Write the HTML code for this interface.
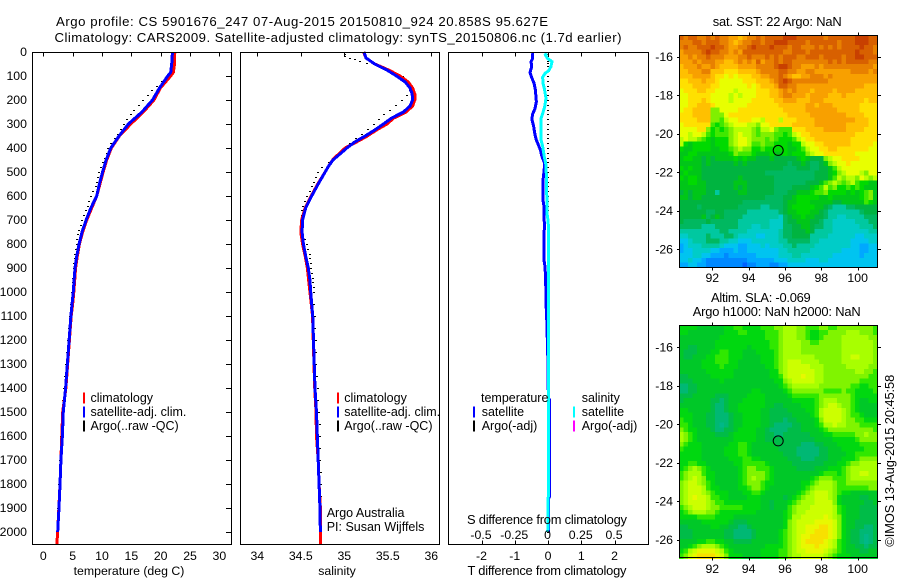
<!DOCTYPE html>
<html lang="en">
<head>
<meta charset="utf-8">
<title>Argo profile CS 5901676_247</title>
<style>
html,body{margin:0;padding:0;background:#fff;}
svg{display:block;}
text{font-family:"Liberation Sans",sans-serif;font-size:12.3px;fill:#000;}
text.big{font-size:13.2px;}
text.mid{font-size:12.9px;}
text.leg{font-size:12.5px;}
.line{fill:none;stroke-linejoin:miter;shape-rendering:crispEdges;}
.box{fill:none;stroke:#000;stroke-width:1;shape-rendering:crispEdges;}
</style>
</head>
<body>
<svg id="fig" xmlns="http://www.w3.org/2000/svg" width="900" height="580" viewBox="0 0 900 580">
  <rect x="0" y="0" width="900" height="580" fill="#fff"/>
  <g id="map-layer"></g>
  <g id="profile-layer"></g>
  <g id="axis-layer"></g>

  <text class="big" x="56" y="26" textLength="492" lengthAdjust="spacing">Argo profile: CS 5901676_247 07-Aug-2015 20150810_924 20.858S 95.627E</text>
  <text class="big" x="54.5" y="42" textLength="567" lengthAdjust="spacing">Climatology: CARS2009. Satellite-adjusted climatology: synTS_20150806.nc (1.7d earlier)</text>

  <text x="129" y="575" text-anchor="middle">temperature (deg C)</text>
  <text x="337" y="575" text-anchor="middle">salinity</text>
  <text class="mid" x="547" y="575" text-anchor="middle" textLength="159" lengthAdjust="spacing">T difference from climatology</text>
  <text class="mid" x="547" y="524" text-anchor="middle" textLength="160" lengthAdjust="spacing">S difference from climatology</text>

  <text class="leg" x="326.7" y="517">Argo Australia</text>
  <text class="leg" x="326.7" y="531">PI: Susan Wijffels</text>

  <text class="mid" x="712.7" y="26" textLength="129" lengthAdjust="spacing">sat. SST: 22 Argo: NaN</text>
  <text class="mid" x="711" y="302" textLength="99.7" lengthAdjust="spacing">Altim. SLA: -0.069</text>
  <text class="mid" x="692.7" y="316" textLength="168" lengthAdjust="spacing">Argo h1000: NaN h2000: NaN</text>
  <text class="mid" transform="translate(894,546.7) rotate(-90)" textLength="172" lengthAdjust="spacing">©IMOS 13-Aug-2015 20:45:58</text>
</svg>

<script>
// ---------- profile data ----------
const climTempDepth = [0,50,85,100,150,200,250,300,350,400,450,500,550,600,650,700,750,800,850,900,1000,1050,1100,1200,1300,1400,1500,1600,1700,1800,1900,2000,2054];
const climTemp = [22.4,22.35,22.15,21.7,19.95,18.85,17.05,14.9,12.95,11.6,10.8,10.2,9.65,9.1,8.25,7.4,6.7,6.15,5.8,5.5,5.2,5.0,4.75,4.45,4.15,3.85,3.3,3.15,3.0,2.85,2.65,2.45,2.3];
const satTempDepth = [0,50,85,100,150,200,250,300,350,400,450,500,550,600,650,700,750,800,850,900,1000,1050,1100,1200,1300,1400,1500,1600,1700,1800,1900,2000];
const satTemp = [22.0,21.87,21.7,21.2,19.8,18.6,16.8,14.5,12.9,11.5,10.7,10.1,9.55,9.1,8.1,7.3,6.6,6.1,5.7,5.4,5.1,4.9,4.7,4.4,4.1,3.8,3.4,3.25,3.0,2.85,2.67,2.45];

const satSalDepth = [0,25,50,75,100,125,150,175,200,225,250,275,300,325,350,375,400,425,450,475,500,550,600,650,700,750,800,850,900,950,1000,1050,1100,1400,1500,1600,1700,1800,1900,2000];
const satSal = [35.226,35.25,35.35,35.49,35.60,35.70,35.755,35.78,35.785,35.755,35.68,35.545,35.45,35.35,35.24,35.12,35.03,34.95,34.87,34.82,34.78,34.70,34.625,34.556,34.52,34.515,34.53,34.556,34.586,34.605,34.614,34.625,34.637,34.663,34.68,34.69,34.70,34.71,34.72,34.725];
const climSalDepth = [0,25,50,75,100,125,150,175,200,225,250,275,300,325,350,375,400,425,450,475,500,550,600,650,700,750,800,850,900,950,1000,1050,1100,1400,1500,1600,1700,1800,1900,2000,2054];
const climSal = [35.22,35.25,35.35,35.51,35.64,35.735,35.785,35.81,35.81,35.785,35.71,35.57,35.49,35.37,35.265,35.14,35.01,34.935,34.865,34.82,34.78,34.695,34.62,34.55,34.51,34.50,34.52,34.55,34.575,34.59,34.605,34.62,34.635,34.66,34.675,34.68,34.70,34.71,34.725,34.725,34.725];

const argoDepth = [8,18,24,30,36,44,60,80,100,120,140,160,180,200,220,240,260,280,300,320,340,360,380,400,420,440,460,480,500,520,540,560,580,600,620,640,660,680,700,720,740,760,780,800,820,840,860,880,900,920,940,960,980,1000,1050,1100,1150,1200,1250,1300,1350,1400,1450,1500,1550,1600,1650,1700,1750,1800,1850,1900,1950,2000];
const argoTemp = [22.1,22.1,22.1,22.1,22.1,22.05,22.0,21.8,21.2,20.2,19.3,18.5,17.8,17.0,16.3,15.5,14.9,14.3,13.75,13.2,12.7,12.2,11.6,11.1,10.8,10.5,10.2,9.85,9.55,9.35,9.2,8.95,8.55,8.07,7.8,7.6,7.3,7.0,6.65,6.35,6.15,5.95,5.8,5.7,5.55,5.45,5.35,5.28,5.23,5.15,5.1,5.05,5.0,4.95,4.75,4.55,4.4,4.25,4.05,3.9,3.75,3.6,3.4,3.28,3.18,3.1,3.0,2.9,2.82,2.75,2.65,2.58,2.5,2.4];
const argoSal = [35.01,35.01,35.06,35.12,35.18,35.26,35.40,35.55,35.67,35.72,35.75,35.755,35.72,35.66,35.59,35.52,35.46,35.40,35.34,35.27,35.20,35.14,35.07,35.0,34.945,34.89,34.82,34.74,34.70,34.68,34.65,34.625,34.60,34.575,34.55,34.525,34.51,34.51,34.51,34.515,34.517,34.53,34.55,34.57,34.585,34.6,34.607,34.615,34.62,34.63,34.64,34.645,34.65,34.65,34.655,34.66,34.665,34.67,34.675,34.68,34.69,34.695,34.70,34.705,34.715,34.72,34.722,34.725,34.728,34.73,34.735,34.735,34.735,34.73];
const argoDiff = [0,0,0,0,0,0,0,0,0,0,0,0,0,0,0,0,0,0,0,0,0,0,0,0,0,0,0,0,0,0,0,0,0,0,0,0,0,0,0,0,0,0,0,0,0,0,0,0,0,0,0,0,0,0,0,0,0,0,0,0,0,0,0,0,0,0,0,0,0,0,0,0,0,0];

const tDiffDepth = [5,26,40,61,85,103,130,158,207,235,262,283,311,346,367,387,408,436,464,499,533,617,644,728,783,867,894,950,1047,1103,1300,1440,1450,1850,1860,2000];
const tDiff = [-0.47,-0.46,-0.51,-0.49,-0.54,-0.50,-0.42,-0.38,-0.35,-0.39,-0.47,-0.48,-0.43,-0.39,-0.35,-0.29,-0.23,-0.18,-0.10,-0.12,-0.15,-0.15,-0.12,-0.11,-0.12,-0.12,-0.09,-0.07,-0.06,-0.04,0.0,0.01,0.05,0.05,0.02,0.02];
const sDiffDepth = [5,12,26,40,61,78,89,105,130,151,193,228,256,276,367,394,436,470,561,672,700,742,922,1103,1500,1850,2000];
const sDiff = [-0.01,-0.02,-0.005,0.03,0.022,0.005,-0.022,-0.04,-0.038,-0.028,-0.015,-0.025,-0.04,-0.052,-0.052,-0.04,-0.028,-0.015,-0.01,-0.008,0,0.005,0.005,0.005,0.003,0.002,-0.002];

// ---------- axis labels ----------
const depthTicks = [0,100,200,300,400,500,600,700,800,900,1000,1100,1200,1300,1400,1500,1600,1700,1800,1900,2000];
const tempTicks = [0,5,10,15,20,25,30];
const salTicks = [34,34.5,35,35.5,36];
const salTickLabels = ['34','34.5','35','35.5','36'];
const tDiffTicks = [-2,-1,0,1,2];
const sDiffTicks = [-0.5,-0.25,0,0.25,0.5];
const sDiffTickLabels = ['-0.5','-0.25','0','0.25','0.5'];
const lonTicks = [92,94,96,98,100];
const latTicks = [-16,-18,-20,-22,-24,-26];

// ---------- legends ----------
const legendTemp = ['climatology','satellite-adj. clim.','Argo(..raw -QC)'];
const legendSal = ['climatology','satellite-adj. clim.','Argo(..raw -QC)'];
const legendDiffT = ['satellite','Argo(-adj)'];
const legendDiffS = ['satellite','Argo(-adj)'];

// ---------- map data: colour-level per grid cell, north to south ----------
const floatLon = 95.627;
const floatLat = -20.858;
const sstGrid = [
[18,17,18,18,17,17,18,17,18,17,17,16,16,15,16,17,17,18,17,18,18,18,18,19,19,19,18,18,18,18,18,18,17,18,18,18,18,18,18,19,19,19,18,18],
[17,17,17,18,18,17,18,18,18,17,17,16,15,16,17,17,18,18,17,18,18,19,19,19,18,18,18,18,17,18,18,18,18,18,18,17,18,18,18,19,19,19,18,18],
[17,18,17,17,18,18,18,19,18,18,17,16,16,17,17,18,19,18,18,18,19,18,18,18,17,18,18,17,17,17,18,17,18,17,18,17,18,18,18,18,19,18,18,17],
[16,17,17,17,17,18,19,18,18,17,17,16,17,16,18,18,18,18,18,18,18,18,18,17,17,18,18,18,17,18,18,18,18,18,18,18,18,18,18,19,18,18,18,17],
[16,16,17,16,17,17,18,17,17,17,16,16,16,17,17,18,17,17,17,18,17,18,17,18,18,18,17,17,18,18,18,17,18,18,18,18,17,18,18,19,19,18,18,18],
[16,16,16,17,16,17,17,17,16,16,15,15,16,17,16,17,16,18,16,17,17,18,17,18,18,17,17,17,17,17,17,17,17,18,17,18,17,18,18,18,18,18,17,17],
[15,16,16,16,17,16,16,17,16,15,15,15,15,16,16,16,16,17,17,17,17,18,19,19,18,17,17,16,16,16,17,16,17,17,17,17,17,17,17,17,17,17,17,16],
[15,15,16,16,16,17,17,15,15,15,14,14,14,15,15,15,15,16,17,17,17,17,18,18,17,17,16,16,17,17,16,16,16,16,16,16,16,16,17,17,17,17,16,17],
[15,15,15,16,16,16,16,15,14,14,13,14,13,14,14,14,15,15,16,16,17,17,18,17,16,15,15,16,16,17,17,17,16,17,16,16,16,16,16,16,16,16,16,16],
[14,14,15,15,15,16,15,15,14,13,13,13,13,13,14,14,14,15,15,15,16,17,18,19,18,17,17,17,17,17,17,17,17,16,16,16,16,16,16,16,16,16,16,16],
[14,14,14,15,15,15,15,14,14,13,13,13,13,13,13,14,13,14,15,15,15,16,18,18,17,17,16,16,16,16,16,16,16,16,16,16,16,16,16,16,16,15,15,15],
[13,14,14,14,15,15,14,14,13,13,13,13,12,13,13,13,13,14,14,14,15,15,16,17,16,17,16,16,16,15,16,16,16,16,15,16,16,16,16,15,15,15,15,15],
[13,13,14,14,14,14,14,13,13,13,13,12,13,12,13,13,13,14,14,14,15,15,16,17,17,16,16,16,15,16,16,16,16,15,15,15,16,15,15,15,15,15,15,15],
[13,13,14,14,14,15,14,13,13,13,13,12,13,13,13,13,14,14,14,14,14,15,15,16,16,16,15,15,15,16,16,16,15,15,15,15,15,15,15,15,15,14,15,15],
[13,13,14,14,15,15,15,14,13,13,13,13,13,13,13,14,14,14,14,14,14,14,15,15,15,15,15,15,16,16,15,16,16,16,15,15,15,15,15,15,14,14,14,14],
[13,14,14,15,15,15,15,11,11,13,13,13,13,14,14,14,14,14,14,14,14,14,14,15,15,15,15,15,16,16,16,16,16,16,16,15,15,15,15,15,14,14,14,14],
[14,14,14,15,15,15,15,11,11,11,13,14,14,14,14,14,14,14,14,14,14,14,14,14,15,15,15,15,15,16,16,16,16,16,16,16,16,15,15,15,15,14,14,14],
[14,14,14,14,15,15,15,11,11,10,12,13,13,14,14,14,13,13,12,14,14,14,12,14,14,14,15,15,15,15,16,16,16,16,16,16,16,16,16,15,15,15,14,14],
[13,14,14,14,14,14,14,10,9,10,11,12,13,13,13,12,12,11,13,13,14,14,14,14,14,15,15,15,15,15,16,16,16,16,16,16,16,15,15,15,15,15,14,14],
[13,13,13,13,14,14,11,9,10,9,10,11,12,12,12,12,11,10,12,12,13,11,10,10,10,14,14,14,15,15,15,15,16,16,16,16,16,15,15,15,15,14,14,14],
[13,13,12,13,13,12,10,9,10,10,10,11,12,13,12,12,11,10,11,11,11,10,10,9,10,12,13,14,14,15,15,15,15,15,15,15,15,15,15,14,14,14,14,14],
[12,13,12,12,11,10,9,8,9,9,9,11,12,13,13,12,11,11,11,10,11,10,9,9,9,10,12,13,14,14,15,15,15,15,15,15,15,15,14,14,14,14,14,14],
[12,9,8,9,9,9,9,8,9,9,9,11,12,13,13,12,10,10,11,10,10,9,9,9,8,9,9,12,13,13,14,14,15,15,15,15,15,15,14,14,14,14,14,13],
[9,8,8,9,9,9,9,8,8,9,9,10,11,12,11,11,9,9,10,9,9,9,9,9,8,8,9,10,12,13,13,14,14,15,15,14,14,14,14,14,14,14,13,13],
[8,8,9,9,8,8,8,8,8,8,8,9,11,10,10,10,9,8,8,8,9,8,8,9,8,9,9,9,11,12,13,13,14,14,14,14,14,14,14,13,13,13,13,13],
[8,9,9,8,8,7,8,7,8,8,8,8,9,8,9,8,8,7,7,7,8,7,7,7,7,7,8,9,8,7,7,7,11,12,13,13,14,14,14,14,13,13,13,13],
[8,8,8,8,8,7,8,7,7,7,7,7,8,7,8,7,7,7,7,7,7,7,7,7,6,7,7,8,7,6,6,7,8,11,12,13,13,14,13,13,13,13,13,13],
[9,8,9,8,8,7,7,7,7,7,7,7,7,7,7,7,7,7,7,7,7,7,7,6,6,6,7,7,7,6,6,7,7,8,10,12,13,13,13,13,13,13,13,13],
[8,9,8,8,8,7,7,7,7,7,7,7,7,7,7,7,7,7,7,6,6,6,6,6,6,6,6,6,6,6,7,7,7,8,9,11,12,13,13,13,12,11,13,13],
[9,8,9,9,8,7,7,7,7,7,7,7,7,8,7,7,7,7,7,7,7,6,6,6,6,6,6,6,6,6,7,7,7,8,10,12,11,12,12,11,13,12,11,12],
[8,8,9,9,8,8,7,7,7,7,7,7,8,8,8,7,7,7,7,7,7,6,6,6,6,6,6,6,7,7,7,8,10,11,12,11,10,11,12,10,9,9,8,8],
[8,8,8,8,8,8,7,7,7,7,7,7,8,7,8,7,7,7,7,7,7,6,6,6,6,7,7,7,7,8,9,10,12,10,11,9,9,10,9,10,9,8,8,8],
[7,8,7,8,8,8,7,7,5,7,7,7,7,8,8,7,7,7,7,7,7,6,6,6,7,7,8,8,8,9,10,10,11,9,9,9,9,8,9,8,9,10,11,8],
[8,8,7,8,8,7,7,7,7,7,7,7,7,7,7,7,7,7,7,6,6,6,6,7,7,8,9,9,9,9,9,8,8,9,8,8,8,8,8,8,9,10,11,8],
[7,7,7,7,7,7,7,7,7,7,7,7,7,7,6,6,6,6,6,6,6,6,6,7,8,8,9,9,9,8,8,8,8,8,7,7,8,8,8,8,8,10,9,8],
[7,7,7,7,6,7,7,7,7,7,7,7,7,6,6,6,6,6,5,5,6,6,6,7,8,9,9,9,9,9,8,8,7,6,5,5,5,6,6,7,7,7,7,7],
[7,7,7,7,7,7,6,6,7,7,6,6,6,6,6,5,5,5,5,5,5,5,6,7,8,8,9,9,9,8,8,7,6,5,5,5,5,5,5,5,6,7,7,7],
[7,7,7,7,7,8,6,7,8,7,6,6,6,6,5,5,5,5,5,5,5,5,4,6,7,8,8,9,8,8,7,7,6,5,5,4,4,5,5,5,5,6,6,6],
[7,6,6,6,6,6,7,6,6,6,6,6,6,5,5,5,5,5,5,5,4,4,4,6,7,7,8,8,8,7,7,6,5,5,4,4,4,4,4,5,5,5,6,6],
[6,6,6,6,6,5,5,5,6,6,6,6,6,5,5,5,4,4,5,5,4,4,4,6,6,7,7,8,8,7,6,6,5,5,4,4,4,4,4,4,5,5,5,6],
[5,5,5,5,5,5,5,5,5,6,6,5,5,5,5,4,4,4,4,4,4,4,5,6,6,7,7,7,8,7,5,5,5,5,4,4,4,4,4,4,4,4,5,5],
[4,4,5,5,5,5,6,5,5,5,6,6,5,4,4,4,4,3,3,4,4,4,5,6,6,7,7,7,7,5,5,5,5,4,4,4,4,4,4,3,3,4,4,4],
[3,3,4,5,5,5,6,6,6,5,5,4,4,3,3,3,4,4,4,4,4,4,5,5,6,6,6,6,6,5,5,4,4,4,4,4,4,4,3,3,3,3,4,4],
[2,3,4,4,4,5,5,5,5,4,3,3,3,2,2,3,3,3,4,3,4,4,4,5,5,6,5,5,5,5,4,4,4,4,4,4,4,4,3,3,2,2,3,3],
[2,3,3,4,4,4,4,3,3,2,2,2,3,2,2,3,3,3,3,3,3,3,4,4,5,5,5,5,5,4,4,4,4,4,4,4,3,3,3,3,2,2,3,3],
[3,3,3,4,4,3,3,2,2,2,1,2,2,2,2,2,2,3,3,3,3,3,4,4,4,5,5,4,4,4,4,4,4,4,3,3,3,3,3,3,2,3,3,3],
[3,3,4,3,3,2,1,1,1,1,1,1,1,1,1,2,2,2,2,2,2,3,3,3,4,4,4,4,3,3,3,4,4,3,3,3,3,3,3,3,3,3,3,3],
[2,2,3,3,2,2,1,1,1,1,1,1,1,1,0,1,1,2,2,2,1,1,2,2,3,3,3,3,3,3,3,3,3,3,3,3,3,3,3,3,3,3,3,3]
];
const slaGrid = [
[9,9,9,9,8,8,8,8,8,8,9,9,10,10,9,9,9,9,10,10,10,11,11,12,12,12,11,11,10,10,10,11,11,10,10,11,11,11,11,11,11,11,11,10],
[9,9,8,8,8,8,8,8,8,8,9,9,9,10,10,9,9,9,9,10,10,10,11,12,12,12,11,11,10,9,9,10,10,11,11,11,11,12,12,12,11,11,11,10],
[8,8,8,8,8,8,8,8,8,9,9,9,9,9,9,9,9,9,9,10,10,10,11,12,12,12,11,11,10,9,9,10,11,11,11,11,12,12,12,12,12,12,11,11],
[8,8,8,8,8,8,8,8,9,9,9,9,9,9,9,9,9,9,9,9,10,10,11,12,12,12,12,11,11,10,10,11,11,11,11,11,12,12,12,12,12,12,12,11],
[8,8,7,7,8,8,8,8,9,9,9,9,9,9,9,8,9,9,9,9,10,10,11,12,12,12,12,11,11,11,11,11,11,11,11,11,12,12,12,12,12,12,12,11],
[8,7,7,7,8,8,8,9,9,10,10,9,9,9,8,8,8,9,9,9,9,10,11,12,12,12,12,11,11,11,11,11,11,11,11,11,12,12,12,12,12,12,12,11],
[8,7,7,8,8,8,9,9,10,10,10,9,9,9,8,8,8,8,9,9,9,10,11,12,12,12,12,12,12,12,11,11,11,11,11,11,12,12,13,13,12,12,12,11],
[8,8,8,8,8,9,9,9,10,10,10,9,9,8,8,8,8,8,9,9,9,10,11,12,13,13,13,12,12,12,12,11,11,11,11,11,12,12,12,12,12,12,12,11],
[8,8,8,8,8,9,9,9,9,10,9,9,9,8,8,8,8,8,8,9,9,10,11,12,13,13,13,13,13,12,12,12,11,11,11,11,11,12,12,12,12,12,11,11],
[8,8,8,8,8,8,9,9,9,9,9,9,8,8,8,8,8,8,8,8,9,9,11,12,13,13,13,13,13,13,12,12,11,11,11,11,11,11,11,12,12,11,11,10],
[7,7,8,8,8,8,8,9,9,9,9,9,8,8,8,8,8,8,8,8,9,9,10,12,13,13,13,14,13,13,12,12,11,11,11,11,11,11,11,11,11,11,10,10],
[7,7,7,8,8,8,8,8,8,9,8,8,8,8,8,8,8,8,8,8,8,9,9,11,12,13,13,13,13,13,12,12,11,11,11,11,11,11,11,11,10,10,10,10],
[6,6,7,7,8,8,8,8,8,8,8,8,8,8,8,8,8,8,8,8,8,8,9,10,11,12,12,12,12,12,12,11,11,11,11,11,11,11,10,10,9,9,10,10],
[6,6,7,7,8,8,8,8,8,8,8,8,8,8,8,8,9,9,8,8,8,8,8,9,10,11,11,11,11,11,11,11,10,10,10,10,11,10,10,9,9,9,9,10],
[7,7,7,8,8,8,8,8,7,7,7,8,8,8,8,9,9,9,9,8,8,8,8,8,9,10,10,10,10,10,10,11,11,11,11,11,11,11,10,9,9,9,9,9],
[7,8,8,8,8,8,8,7,7,6,7,8,8,8,9,9,9,9,9,8,8,8,8,8,8,9,9,9,9,9,10,11,12,12,12,11,11,11,10,9,8,8,9,9],
[8,8,8,8,8,8,8,7,6,6,7,8,8,9,9,9,9,9,9,8,8,7,7,8,8,8,8,9,9,9,10,11,12,13,13,12,11,11,10,9,8,8,8,8],
[9,9,8,8,8,8,8,7,6,6,7,8,8,9,9,9,9,9,8,8,7,7,7,7,8,8,8,8,9,9,10,12,13,13,13,13,12,11,10,9,8,8,8,8],
[9,9,9,8,8,8,7,7,6,6,6,7,8,8,9,9,9,9,8,8,7,7,7,7,7,8,8,8,8,9,10,12,13,13,13,13,12,11,10,10,9,8,8,8],
[10,9,9,8,8,8,7,7,6,6,6,7,8,8,9,9,9,9,8,8,7,7,7,6,7,7,8,8,8,8,9,11,13,13,13,13,12,11,11,10,10,9,9,9],
[10,10,9,8,8,8,7,7,6,5,6,7,8,8,9,9,9,9,8,8,7,6,6,6,6,7,7,8,8,8,9,10,12,12,13,12,12,11,11,11,10,10,10,10],
[11,10,9,9,8,8,8,7,6,6,7,7,8,9,9,9,9,8,8,7,6,6,6,6,7,7,7,8,8,8,8,9,10,11,11,11,11,11,11,11,11,11,11,10],
[12,11,10,9,8,8,8,8,7,7,7,8,9,9,9,9,9,8,8,7,7,6,6,7,7,7,7,7,7,8,8,8,9,9,10,10,10,10,10,11,11,12,11,11],
[12,11,10,9,8,8,8,8,8,8,8,8,9,9,9,9,9,8,8,7,7,7,7,7,7,7,7,7,7,7,8,8,8,8,9,9,9,9,9,10,11,11,11,11],
[11,10,9,9,9,8,8,8,8,8,8,9,9,10,10,9,8,8,8,8,8,7,7,7,7,7,7,6,6,6,7,7,8,8,8,9,9,9,9,9,10,10,10,10],
[10,9,9,9,9,8,8,8,8,8,9,9,9,10,10,9,8,8,8,8,8,8,7,7,7,7,6,6,6,6,6,7,7,8,8,8,9,9,9,9,9,10,10,10],
[9,9,9,9,9,8,8,8,8,8,9,9,9,10,10,9,8,8,8,8,8,8,8,7,7,7,6,6,6,6,6,7,7,8,8,8,8,9,9,10,10,10,10,10],
[9,9,9,9,9,8,8,8,8,8,8,9,9,9,10,10,9,9,8,8,8,8,8,8,7,7,7,6,6,6,7,7,7,8,8,8,9,9,9,10,11,11,11,11],
[9,9,10,10,9,9,8,8,8,8,8,8,9,9,10,10,10,10,10,9,8,8,8,8,8,7,7,7,7,7,7,7,8,8,8,9,9,10,11,11,12,12,12,12],
[9,10,11,12,11,10,9,8,8,8,8,8,8,9,10,11,11,10,10,10,9,8,8,8,8,8,7,7,7,7,8,8,8,9,9,9,10,11,12,12,12,12,12,12],
[10,11,12,12,12,10,9,9,8,8,8,8,8,9,10,11,11,11,11,10,9,8,8,8,8,8,8,8,8,8,8,9,10,10,10,9,10,11,12,12,13,13,12,12],
[10,11,12,13,12,11,9,9,8,8,8,8,8,9,10,11,12,11,11,10,9,8,8,8,8,8,8,8,8,9,10,11,11,11,10,10,10,11,12,12,12,12,12,12],
[11,12,13,13,12,11,10,9,8,8,8,8,8,9,10,11,11,11,10,9,9,8,8,8,8,8,8,9,9,10,11,12,12,12,11,10,10,11,11,11,11,11,11,11],
[11,12,13,13,13,12,10,9,9,8,8,8,8,9,9,10,11,11,10,9,8,8,8,8,8,8,8,9,10,11,12,12,12,12,11,10,10,10,10,10,10,10,11,11],
[11,12,13,13,13,12,11,10,9,9,9,8,8,8,9,9,10,10,9,8,8,8,8,8,8,8,9,10,11,12,13,13,13,12,11,10,9,9,8,8,8,8,8,8],
[11,12,13,14,13,13,12,10,10,9,9,8,8,8,8,9,9,9,8,8,8,8,8,7,8,9,10,11,12,12,13,13,13,12,11,9,8,8,8,8,7,7,8,8],
[11,12,13,13,13,13,12,11,10,10,9,9,9,9,9,9,9,9,8,8,7,8,8,8,9,10,11,12,12,12,13,13,13,13,11,9,8,8,8,8,8,7,7,8],
[10,11,12,13,13,13,12,11,11,10,10,10,10,10,9,9,9,9,8,8,7,8,8,8,10,11,12,12,12,13,13,13,13,13,12,10,9,8,8,8,7,7,7,7],
[9,10,11,12,12,12,11,11,10,9,9,9,9,9,9,9,9,8,8,8,8,8,8,9,10,11,12,12,13,13,13,13,13,13,12,10,9,8,8,8,7,7,7,7],
[9,9,9,9,10,10,10,10,9,9,9,9,8,8,8,8,8,8,8,8,8,8,8,9,10,12,12,13,13,13,13,13,14,13,12,11,9,8,8,8,7,7,7,7],
[8,8,8,8,8,9,9,9,9,9,9,8,7,7,7,8,8,8,8,8,8,8,8,9,11,12,13,13,13,13,14,14,14,14,13,11,9,8,8,7,7,7,7,7],
[7,7,8,8,8,8,8,9,9,8,8,7,7,6,6,7,8,8,8,8,8,8,8,9,11,12,13,13,14,14,14,15,15,14,13,11,9,8,8,7,7,6,6,7],
[7,7,7,8,8,8,8,8,8,8,7,7,6,6,6,6,7,8,8,8,8,8,9,10,11,12,13,13,14,14,15,15,15,14,13,11,9,8,7,7,6,6,6,7],
[7,7,7,8,8,8,8,8,8,8,7,7,6,6,6,6,7,8,8,8,8,8,9,10,11,12,13,14,14,15,15,15,15,14,13,11,9,8,7,7,6,5,6,7],
[8,8,8,8,9,9,10,10,9,9,8,8,7,7,7,7,8,8,8,8,8,8,9,10,11,12,13,14,15,15,15,15,14,13,12,10,9,8,7,7,6,5,6,7],
[8,8,9,10,11,12,12,12,11,10,9,8,8,8,8,8,8,8,8,9,9,9,9,10,11,12,13,14,14,14,15,14,14,13,12,10,9,8,8,7,7,6,7,7],
[9,10,12,13,14,14,14,14,13,12,10,9,8,8,8,8,8,8,9,9,9,9,10,10,11,12,13,13,14,14,14,14,13,12,11,10,9,8,8,8,7,7,8,8],
[10,11,13,14,15,15,15,15,14,13,11,9,9,9,8,8,8,8,9,9,9,9,10,10,11,12,12,13,13,13,13,13,12,11,10,9,9,9,8,8,8,8,8,8]
];
const sstColors = ['#0060ff','#0088ff','#00a8ff','#00c4f0','#00ccc8','#00c8a0','#00b860','#00b440','#00c618','#00da00','#40e800','#80f000','#b8ff00','#e8ff00','#ffe000','#ffc000','#f8a000','#e88000','#d86000','#c84000'];
const slaColors = ['#0060ff','#0088ff','#00a8ff','#00c4f0','#00ccc8','#00b888','#00b874','#00bc48','#00c828','#00d810','#30e800','#80f400','#a8ff00','#ccff00','#e8f800','#f8e000'];

// ---------- scales ----------
const depthY = d => 52 + d * 0.24;
const tempX = t => 43.3 + t * 5.87;
const salX = s => 257.3 + (s - 34) * 87;
const tDiffX = t => 548 + t * 33.25;
const sDiffX = s => 548 + s * 133;
const lonX = lon => 712.3 + (lon - 92) * 18.17;
const sstLatY = lat => 57 + (-16 - lat) * 19.23;
const slaLatY = lat => 347.3 + (-16 - lat) * 19.27;
const LON_MIN = 90.18, LON_MAX = 101.08, LAT_TOP = -14.86, LAT_BOTTOM = -26.95;

const NS = 'http://www.w3.org/2000/svg';
const mapLayer = document.getElementById('map-layer');
const profileLayer = document.getElementById('profile-layer');
const axisLayer = document.getElementById('axis-layer');

function make(parent, tag, attrs, name) {
  const el = document.createElementNS(NS, tag);
  for (const k in attrs) el.setAttribute(k, attrs[k]);
  
  
  parent.appendChild(el);
  return el;
}
function label(parent, x, y, str, anchor, name, cls) {
  const el = make(parent, 'text', {x: x, y: y, 'text-anchor': anchor}, name);
  if (cls) el.setAttribute('class', cls);
  el.textContent = str;
  return el;
}
function tick(parent, x1, y1, x2, y2, name) {
  return make(parent, 'line', {x1: x1, y1: y1, x2: x2, y2: y2, stroke: '#000', 'stroke-width': 1, 'shape-rendering': 'crispEdges'}, name);
}
function profile(depths, values, xScale, color, width, name) {
  const pts = depths.map((d, i) => xScale(values[i]).toFixed(2) + ',' + depthY(d).toFixed(2)).join(' ');
  return make(profileLayer, 'polyline', {points: pts, stroke: color, 'stroke-width': width, class: 'line'}, name);
}
function dots(depths, values, xScale, name) {
  depths.forEach((d, i) => {
    make(profileLayer, 'rect', {x: Math.round(xScale(values[i])) - 1, y: Math.round(depthY(d)), width: 2, height: 1, fill: '#000', 'shape-rendering': 'crispEdges'}, name);
  });
}
function legendBar(x, yc, color, name) {
  make(axisLayer, 'rect', {x: x, y: yc - 5.5, width: 2, height: 11, fill: color, 'shape-rendering': 'crispEdges'}, name);
}
function grid(g, latY, palette, name) {
  const rows = g.length, cols = g[0].length;
  const dLon = (LON_MAX - LON_MIN) / cols, dLat = (LAT_TOP - LAT_BOTTOM) / rows;
  g.forEach((row, r) => row.forEach((v, c) => {
    const x0 = lonX(LON_MIN + c * dLon), x1 = lonX(LON_MIN + (c + 1) * dLon);
    const y0 = latY(LAT_TOP - r * dLat), y1 = latY(LAT_TOP - (r + 1) * dLat);
    make(mapLayer, 'rect', {x: x0.toFixed(2), y: y0.toFixed(2), width: (x1 - x0 + 0.5).toFixed(2), height: (y1 - y0 + 0.5).toFixed(2), fill: palette[v], 'shape-rendering': 'crispEdges'}, name);
  }));
}

// ---------- maps ----------
grid(sstGrid, sstLatY, sstColors, 'sst-cell');
grid(slaGrid, slaLatY, slaColors, 'sla-cell');

// ---------- profiles ----------
dots(argoDepth, argoTemp, tempX, 'argo-temperature-point');
profile(climTempDepth, climTemp, tempX, '#ff0000', 3, 'climatology-temperature-line');
profile(satTempDepth, satTemp, tempX, '#0000ff', 3, 'satellite-temperature-line');

dots(argoDepth, argoSal, salX, 'argo-salinity-point');
profile(climSalDepth, climSal, salX, '#ff0000', 3, 'climatology-salinity-line');
profile(satSalDepth, satSal, salX, '#0000ff', 3, 'satellite-salinity-line');

dots(argoDepth, argoDiff, tDiffX, 'argo-difference-point');
profile(tDiffDepth, tDiff, tDiffX, '#0000ff', 3, 'temperature-difference-line');
profile(sDiffDepth, sDiff, sDiffX, '#00ffff', 3, 'salinity-difference-line');

// ---------- panel boxes ----------
make(axisLayer, 'rect', {x: 32.5, y: 52.5, width: 199, height: 492, class: 'box'}, 'temperature-panel-frame');
make(axisLayer, 'rect', {x: 240.5, y: 52.5, width: 199, height: 492, class: 'box'}, 'salinity-panel-frame');
make(axisLayer, 'rect', {x: 448.5, y: 52.5, width: 200, height: 492, class: 'box'}, 'difference-panel-frame');
make(axisLayer, 'rect', {x: 679.5, y: 35.5, width: 198, height: 232, class: 'box'}, 'sst-map-frame');
make(axisLayer, 'rect', {x: 679.5, y: 325.5, width: 198, height: 232, class: 'box'}, 'sla-map-frame');

// ---------- depth axis ----------
depthTicks.forEach(d => {
  const y = Math.round(depthY(d)) + 0.5;
  tick(axisLayer, 226, y, 231, y, 'depth-tick');
  label(axisLayer, 27, depthY(d) + 4, String(d), 'end', 'depth-tick-label');
});

// ---------- x axes ----------
const TOP = 52.5, BOT = 544.5;
tempTicks.forEach(t => {
  const x = Math.round(tempX(t)) + 0.5;
  tick(axisLayer, x, TOP, x, TOP + 4, 'temperature-top-tick');
  label(axisLayer, tempX(t), 560, String(t), 'middle', 'temperature-tick-label');
});
salTicks.forEach((s, i) => {
  const x = Math.round(salX(s)) + 0.5;
  tick(axisLayer, x, TOP, x, TOP + 4, 'salinity-top-tick');
  label(axisLayer, salX(s), 560, salTickLabels[i], 'middle', 'salinity-tick-label');
});
tDiffTicks.forEach(t => {
  const x = Math.round(tDiffX(t)) + 0.5;
  tick(axisLayer, x, TOP, x, TOP + 4, 'difference-top-tick');
  tick(axisLayer, x, BOT, x, BOT - 4, 'difference-bottom-tick');
  label(axisLayer, tDiffX(t), 560, String(t), 'middle', 't-difference-tick-label');
});
sDiffTicks.forEach((s, i) => {
  label(axisLayer, sDiffX(s) - 0.5, 539, sDiffTickLabels[i], 'middle', 's-difference-tick-label');
});

// ---------- map axes ----------
function mapAxes(top, bottom, latY, labelY, prefix) {
  lonTicks.forEach(lon => {
    const x = Math.round(lonX(lon)) + 0.5;
    tick(axisLayer, x, top, x, top - 3, prefix + '-top-tick');
    tick(axisLayer, x, bottom, x, bottom + 3, prefix + '-bottom-tick');
    label(axisLayer, lonX(lon), labelY, String(lon), 'middle', prefix + '-longitude-label');
  });
  latTicks.forEach(lat => {
    const y = Math.round(latY(lat)) + 0.5;
    tick(axisLayer, 677, y, 679.5, y, prefix + '-left-tick');
    tick(axisLayer, 877.5, y, 881, y, prefix + '-right-tick');
    label(axisLayer, 673, latY(lat) + 4, String(lat), 'end', prefix + '-latitude-label');
  });
}
mapAxes(35.5, 267.5, sstLatY, 282, 'sst');
mapAxes(325.5, 557.5, slaLatY, 573, 'sla');

// ---------- float position markers ----------
make(axisLayer, 'circle', {cx: lonX(floatLon), cy: sstLatY(floatLat), r: 5, fill: 'none', stroke: '#000', 'stroke-width': 1}, 'sst-float-marker');
make(axisLayer, 'circle', {cx: lonX(floatLon), cy: slaLatY(floatLat), r: 5, fill: 'none', stroke: '#000', 'stroke-width': 1}, 'sla-float-marker');

// ---------- legends ----------
const LEGEND_Y = [398, 412, 426];
const TEXT_SHIFT = 4;
const barColors = ['#ff0000', '#0000ff', '#000000'];
legendTemp.forEach((str, i) => {
  legendBar(83, LEGEND_Y[i], barColors[i], 'temperature-legend-marker');
  label(axisLayer, 90.5, LEGEND_Y[i] + TEXT_SHIFT, str, 'start', 'temperature-legend-entry', 'leg');
});
legendSal.forEach((str, i) => {
  legendBar(337, LEGEND_Y[i], barColors[i], 'salinity-legend-marker');
  label(axisLayer, 344.3, LEGEND_Y[i] + TEXT_SHIFT, str, 'start', 'salinity-legend-entry', 'leg');
});
label(axisLayer, 481, LEGEND_Y[0] + TEXT_SHIFT, 'temperature', 'start', 'difference-legend-temperature-heading', 'leg');
label(axisLayer, 581.7, LEGEND_Y[0] + TEXT_SHIFT, 'salinity', 'start', 'difference-legend-salinity-heading', 'leg');
legendDiffT.forEach((str, i) => {
  legendBar(473, LEGEND_Y[i + 1], ['#0000ff', '#000000'][i], 'difference-legend-temperature-marker');
  label(axisLayer, 481.7, LEGEND_Y[i + 1] + TEXT_SHIFT, str, 'start', 'difference-legend-temperature-entry', 'leg');
});
legendDiffS.forEach((str, i) => {
  legendBar(573, LEGEND_Y[i + 1], ['#00ffff', '#ff00ff'][i], 'difference-legend-salinity-marker');
  label(axisLayer, 581.7, LEGEND_Y[i + 1] + TEXT_SHIFT, str, 'start', 'difference-legend-salinity-entry', 'leg');
});
</script>
</body>
</html>
